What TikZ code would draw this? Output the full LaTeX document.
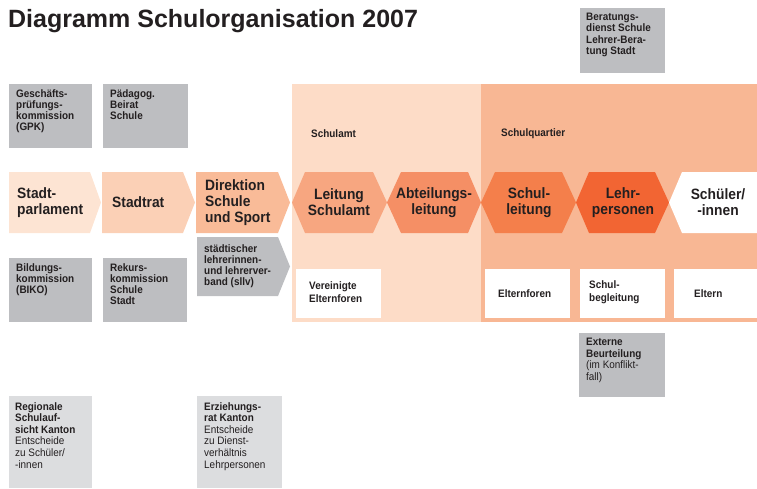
\documentclass[tikz,border=0pt]{standalone}
\usepackage{fontspec}
\setmainfont{Liberation Sans}
\newfontfamily\cn[FakeStretch=0.92]{Liberation Sans}
\definecolor{txt}{HTML}{231F20}
\definecolor{gbox}{HTML}{BDBEC1}
\definecolor{lgbox}{HTML}{DCDDDF}
\definecolor{cA}{HTML}{FDE4D3}
\definecolor{cB}{HTML}{FBD0B6}
\definecolor{cC}{HTML}{F9BB98}
\definecolor{bgA}{HTML}{FDDCC7}
\definecolor{bgB}{HTML}{F8B794}
\definecolor{hA}{HTML}{F7A680}
\definecolor{hB}{HTML}{F58F65}
\definecolor{hC}{HTML}{F47F4B}
\definecolor{hD}{HTML}{F26533}
\tikzset{
  big/.style={font=\cn\bfseries\fontsize{15}{16}\selectfont, text=txt, inner sep=0pt},
  small/.style={font=\cn\bfseries\fontsize{10.8}{11.2}\selectfont, text=txt, inner sep=0pt, align=left, anchor=north west},
  smallc/.style={font=\cn\bfseries\fontsize{10.8}{12.5}\selectfont, text=txt, inner sep=0pt, align=left, anchor=west},
  lowtxt/.style={font=\cn\fontsize{10.8}{11.6}\selectfont, text=txt, inner sep=0pt, align=left, anchor=north west},
}
\begin{document}
\begin{tikzpicture}[x=1pt,y=-1pt]
\useasboundingbox (0,0) rectangle (757,488);
% title
\node[font=\bfseries\fontsize{25}{27}\selectfont, text=txt, inner sep=0pt, anchor=base west] (title) at (8,27) {Diagramm Schulorganisation 2007};
% background areas
\fill[bgA] (292,84) rectangle (481,322);
\fill[bgB] (481,84) rectangle (757,322);
\node[small, anchor=west] (lSchulamt) at (311,134) {Schulamt};
\node[small, anchor=west] (lSchulquartier) at (501,134) {Schulquartier};
% gray boxes
\fill[gbox] (9,84) rectangle (92,148);
\fill[gbox] (103,84) rectangle (188,148);
\fill[gbox] (580,8) rectangle (665,73);
\fill[gbox] (9,258) rectangle (92,322);
\fill[gbox] (103,258) rectangle (187,322);
\fill[gbox] (579,333) rectangle (665,397);
\fill[lgbox] (9,396) rectangle (92,488);
\fill[lgbox] (197,396) rectangle (282,488);
\fill[gbox] (197,237) -- (278,237) -- (290,266.5) -- (278,296) -- (197,296) -- cycle;
% chevrons
\fill[cA] (9,172) -- (90,172) -- (101,202.5) -- (90,233) -- (9,233) -- cycle;
\fill[cB] (102,172) -- (183,172) -- (195,202.5) -- (183,233) -- (102,233) -- cycle;
\fill[cC] (196,172) -- (278,172) -- (290,202.5) -- (278,233) -- (196,233) -- cycle;
% hexagons
\fill[hA] (292,202.5) -- (305,172) -- (373,172) -- (387,202.5) -- (373,233) -- (305,233) -- cycle;
\fill[hB] (387,202.5) -- (401,172) -- (468,172) -- (481,202.5) -- (468,233) -- (401,233) -- cycle;
\fill[hC] (481,202.5) -- (495,172) -- (562,172) -- (576,202.5) -- (562,233) -- (495,233) -- cycle;
\fill[hD] (576,202.5) -- (589,172) -- (655,172) -- (669,202.5) -- (655,233) -- (589,233) -- cycle;
\fill[white] (669,202.5) -- (682,172) -- (757,172) -- (757,233) -- (682,233) -- cycle;
% white boxes
\fill[white] (296,269) rectangle (381,318);
\fill[white] (485,269) rectangle (570,318);
\fill[white] (580,269) rectangle (665,318);
\fill[white] (674,269) rectangle (757,318);
% chevron texts
\node[big, align=left, anchor=west] (stadtparlament) at (17,202.5) {Stadt-\\parlament};
\node[big, align=left, anchor=west] (stadtrat) at (112,202.5) {Stadtrat};
\node[big, align=left, anchor=west] (direktion) at (205,203) {Direktion\\Schule\\und Sport};
\node[big, align=center] (leitung) at (339,202.5) {Leitung\\Schulamt};
\node[big, align=center] (abteilung) at (434,202.5) {Abteilungs-\\leitung};
\node[big, align=center] (schulleitung) at (529,202.5) {Schul-\\leitung};
\node[big, align=center] (lehrpersonen) at (623,202.5) {Lehr-\\personen};
\node[big, align=center] (schueler) at (718,202.5) {Schüler/\\-innen};
% gray box texts
\node[small] (gpk) at (16,89) {Geschäfts-\\prüfungs-\\kommission\\(GPK)};
\node[small] (paed) at (110,89) {Pädagog.\\Beirat\\Schule};
\node[small] (berat) at (586,13) {Beratungs-\\dienst Schule\\Lehrer-Bera-\\tung Stadt};
\node[small] (biko) at (16,263) {Bildungs-\\kommission\\(BIKO)};
\node[small] (rekurs) at (110,263) {Rekurs-\\kommission\\Schule\\Stadt};
\node[small] (sllv) at (204,244) {städtischer\\lehrerinnen-\\und lehrerver-\\band (sllv)};
\node[lowtxt] (extern) at (586,338) {\bfseries Externe\\\bfseries Beurteilung\\(im Konflikt-\\fall)};
\node[lowtxt] (regional) at (15,402) {\bfseries Regionale\\\bfseries Schulauf-\\\bfseries sicht Kanton\\Entscheide\\zu Schüler/\\-innen};
\node[lowtxt] (erziehung) at (204,402) {\bfseries Erziehungs-\\\bfseries rat Kanton\\Entscheide\\zu Dienst-\\verhältnis\\Lehrpersonen};
% white box texts
\node[smallc] (verein) at (309,292) {Vereinigte\\Elternforen};
\node[smallc] (elternforen) at (498,293.5) {Elternforen};
\node[smallc] (schulbegl) at (589,292) {Schul-\\begleitung};
\node[smallc] (eltern) at (694,293.5) {Eltern};
\end{tikzpicture}
\end{document}
